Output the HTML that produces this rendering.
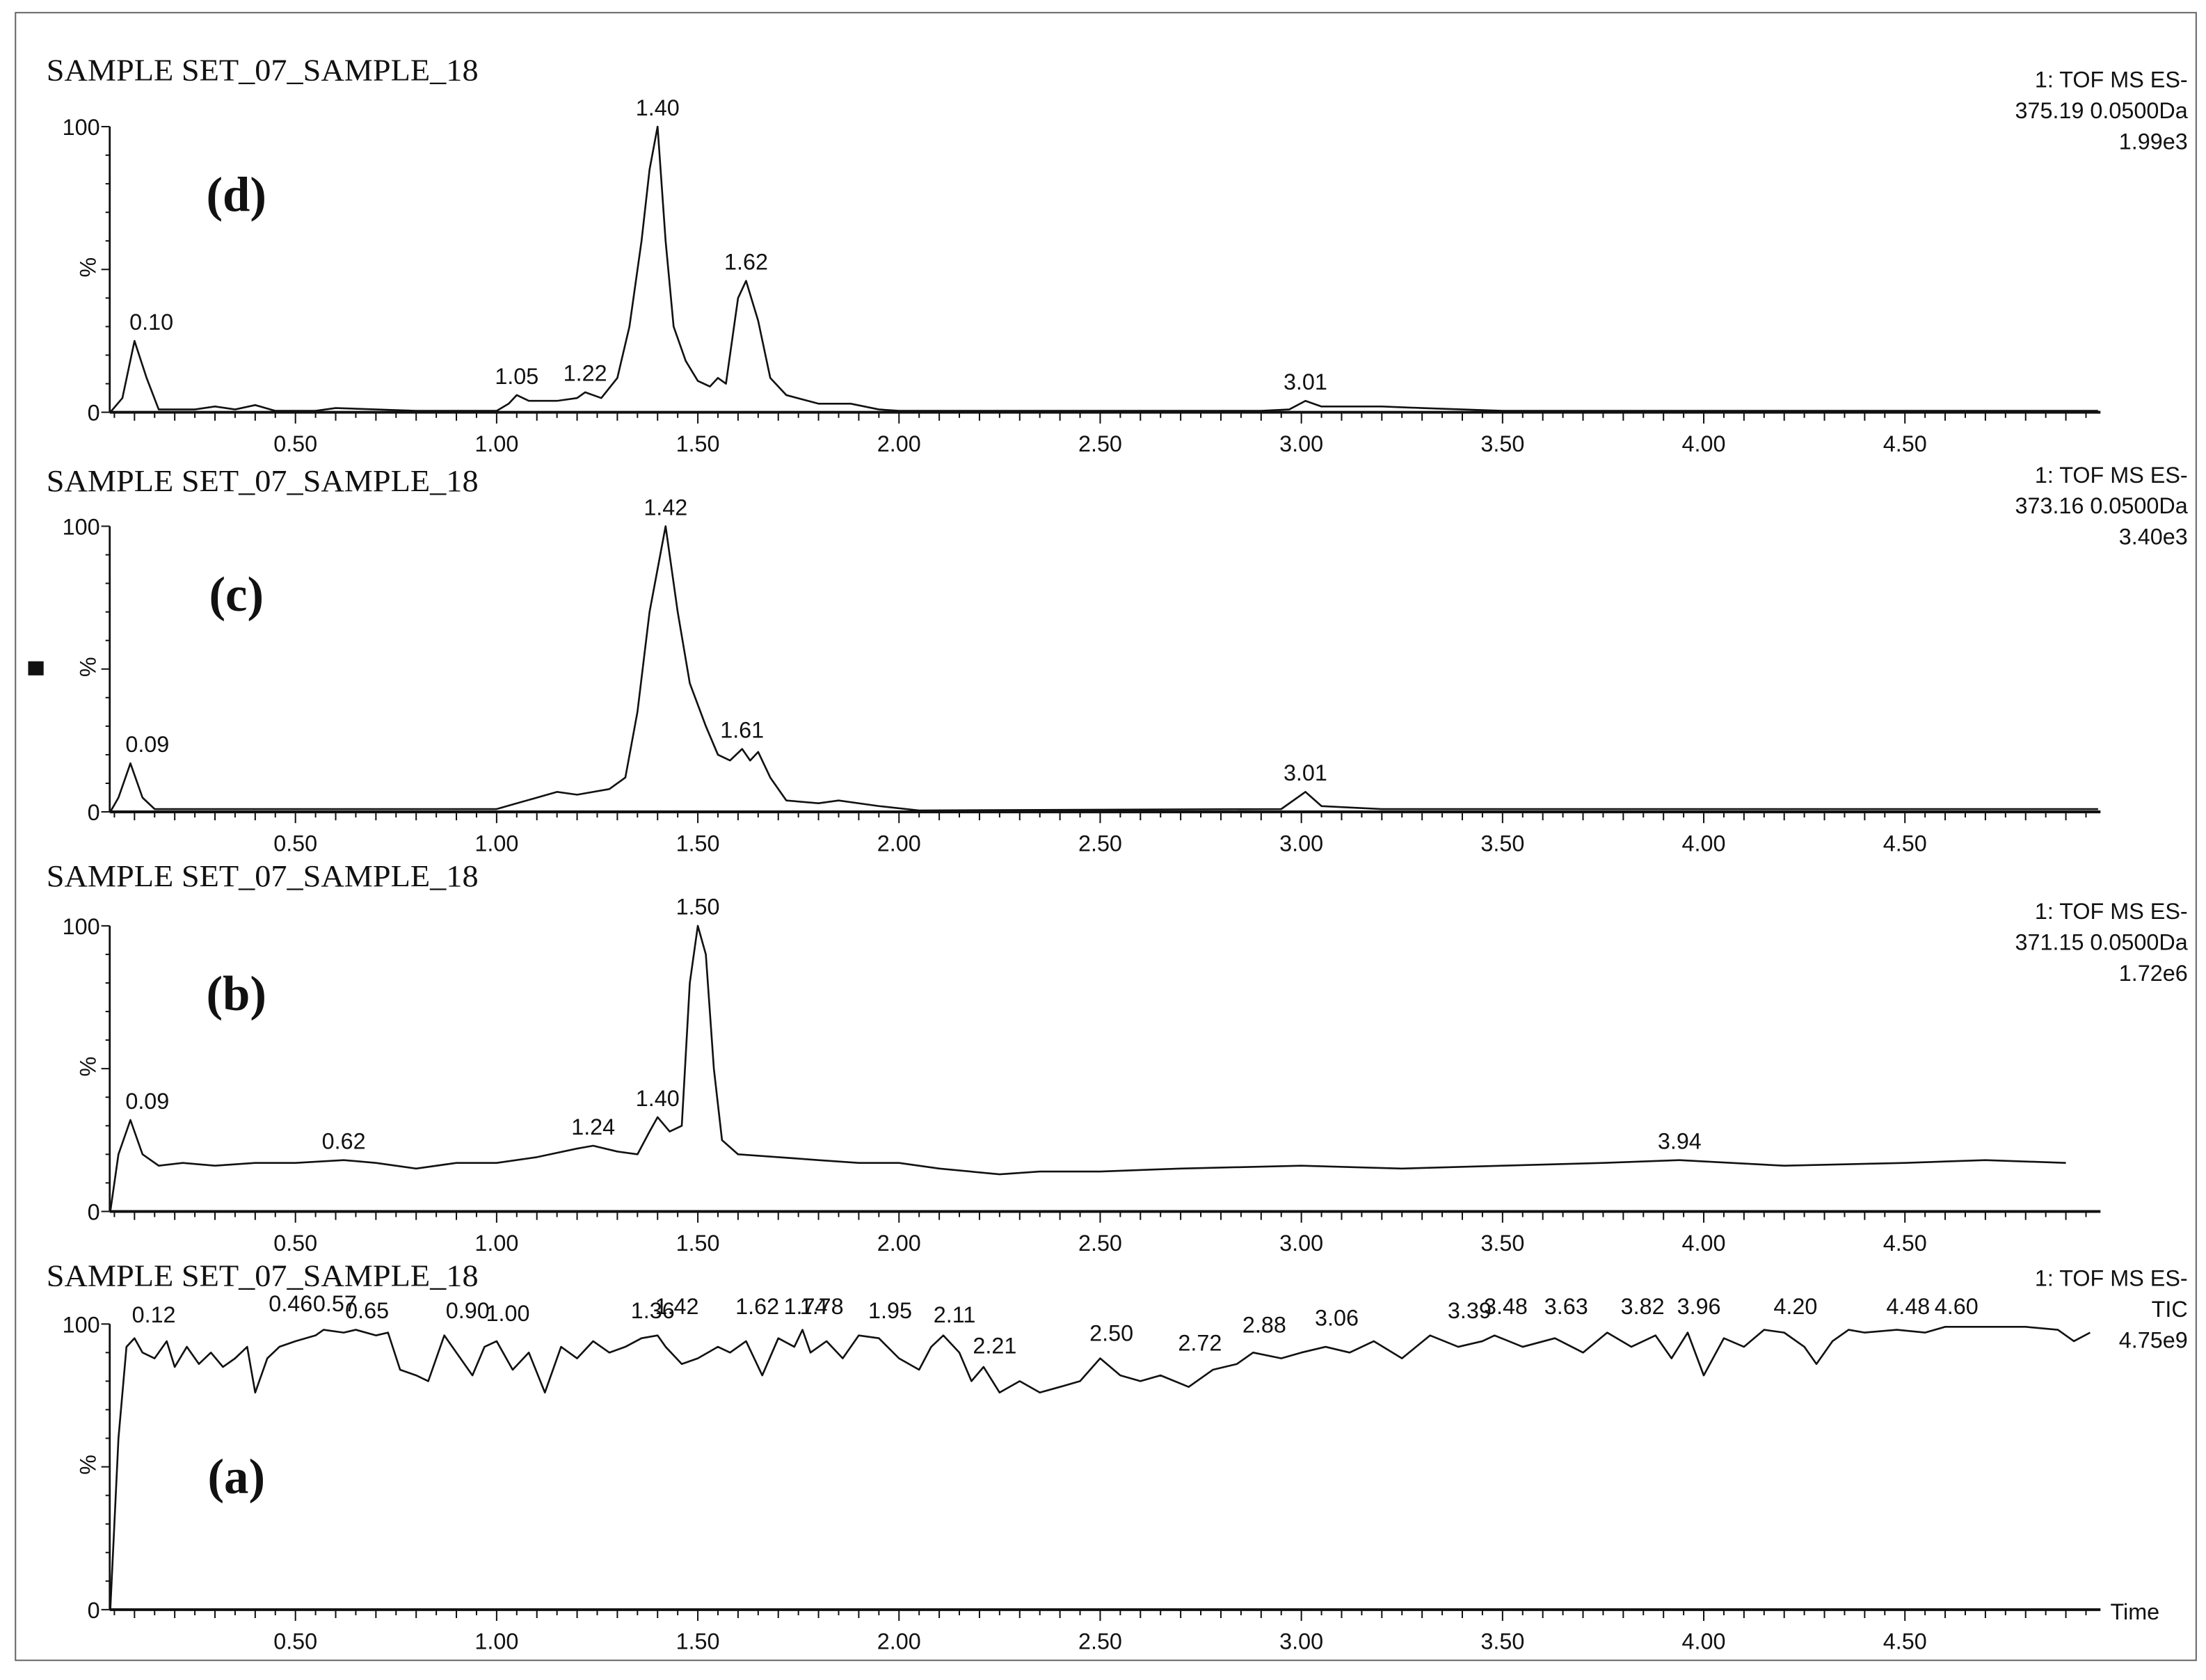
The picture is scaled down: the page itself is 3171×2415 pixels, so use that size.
<!DOCTYPE html>
<html><head><meta charset="utf-8">
<style>
html,body{margin:0;padding:0;background:#fff;}
svg{display:block;}
.t{font-family:"Liberation Serif",serif;font-size:22px;fill:#111;}
.s{font-family:"Liberation Sans",sans-serif;font-size:16px;fill:#111;}
.p{font-family:"Liberation Serif",serif;font-size:35px;font-weight:bold;fill:#111;}
</style></head>
<body>
<svg id="chart" width="3171" height="2415" viewBox="0 0 1568 1194" preserveAspectRatio="none" xmlns="http://www.w3.org/2000/svg">
<rect x="11" y="9" width="1550" height="1171" fill="#fff" stroke="#666" stroke-width="1"/>
<rect x="20" y="470" width="11" height="10" fill="#111"/>
</svg>
<script>
// ---- data ----
const xTicks = [0.50,1.00,1.50,2.00,2.50,3.00,3.50,4.00,4.50];
const panelLetters = ["(d)","(c)","(b)","(a)"];
const panelInfo1 = ["1: TOF MS ES-","1: TOF MS ES-","1: TOF MS ES-","1: TOF MS ES-"];
const panelInfo2 = ["375.19 0.0500Da","373.16 0.0500Da","371.15 0.0500Da","TIC"];
const panelInfo3 = ["1.99e3","3.40e3","1.72e6","4.75e9"];
const dTimes = [0.04,0.07,0.10,0.13,0.16,0.25,0.30,0.35,0.40,0.45,0.55,0.60,0.80,1.00,1.03,1.05,1.08,1.15,1.20,1.22,1.26,1.30,1.33,1.36,1.38,1.40,1.42,1.44,1.47,1.50,1.53,1.55,1.57,1.60,1.62,1.65,1.68,1.72,1.80,1.88,1.95,2.00,2.90,2.97,3.01,3.05,3.20,3.30,3.50,4.98];
const dVals  = [0,5,25,12,1,1,2,1,2.5,0.5,0.5,1.5,0.5,0.5,3,6,4,4,5,7,5,12,30,60,85,100,60,30,18,11,9,12,10,40,46,32,12,6,3,3,1,0.5,0.5,1,4,2,2,1.5,0.5,0.5];
const cTimes = [0.04,0.06,0.09,0.12,0.15,1.00,1.05,1.10,1.15,1.20,1.28,1.32,1.35,1.38,1.42,1.45,1.48,1.52,1.55,1.58,1.61,1.63,1.65,1.68,1.72,1.80,1.85,1.95,2.05,2.95,3.01,3.05,3.20,4.98];
const cVals  = [0,5,17,5,1,1,3,5,7,6,8,12,35,70,100,70,45,30,20,18,22,18,21,12,4,3,4,2,0.5,1,7,2,1,1];
const bTimes = [0.04,0.06,0.09,0.12,0.16,0.22,0.30,0.40,0.50,0.62,0.70,0.80,0.90,1.00,1.10,1.20,1.24,1.30,1.35,1.38,1.40,1.43,1.46,1.48,1.50,1.52,1.54,1.56,1.60,1.70,1.80,1.90,2.00,2.10,2.25,2.35,2.50,2.70,3.00,3.25,3.50,3.75,3.94,4.20,4.50,4.70,4.90];
const bVals  = [0,20,32,20,16,17,16,17,17,18,17,15,17,17,19,22,23,21,20,28,33,28,30,80,100,90,50,25,20,19,18,17,17,15,13,14,14,15,16,15,16,17,18,16,17,18,17];
const aTimes = [0.04,0.06,0.08,0.10,0.12,0.15,0.18,0.20,0.23,0.26,0.29,0.32,0.35,0.38,0.40,0.43,0.46,0.50,0.55,0.57,0.62,0.65,0.70,0.73,0.76,0.80,0.83,0.87,0.90,0.94,0.97,1.00,1.04,1.08,1.12,1.16,1.20,1.24,1.28,1.32,1.36,1.40,1.42,1.46,1.50,1.55,1.58,1.62,1.66,1.70,1.74,1.76,1.78,1.82,1.86,1.90,1.95,2.00,2.05,2.08,2.11,2.15,2.18,2.21,2.25,2.30,2.35,2.40,2.45,2.50,2.55,2.60,2.65,2.72,2.78,2.84,2.88,2.95,3.00,3.06,3.12,3.18,3.25,3.32,3.39,3.45,3.48,3.55,3.63,3.70,3.76,3.82,3.88,3.92,3.96,4.00,4.05,4.10,4.15,4.20,4.25,4.28,4.32,4.36,4.40,4.48,4.55,4.60,4.70,4.80,4.88,4.92,4.96];
const aVals  = [0,60,92,95,90,88,94,85,92,86,90,85,88,92,76,88,92,94,96,98,97,98,96,97,84,82,80,96,90,82,92,94,84,90,76,92,88,94,90,92,95,96,92,86,88,92,90,94,82,95,92,98,90,94,88,96,95,88,84,92,96,90,80,85,76,80,76,78,80,88,82,80,82,78,84,86,90,88,90,92,90,94,88,96,92,94,96,92,95,90,97,92,96,88,97,82,95,92,98,97,92,86,94,98,97,98,97,99,99,99,98,94,97];
const dLabels = [0.10,1.05,1.22,1.40,1.62,3.01];
const dLabelVals = [25,6,7,100,46,4];
const cLabels = [0.09,1.42,1.61,3.01];
const cLabelVals = [17,100,22,7];
const bLabels = [0.09,0.62,1.24,1.40,1.50,3.94];
const bLabelVals = [32,18,23,33,100,18];
const aLabels = [0.12,0.46,0.57,0.65,0.90,1.00,1.36,1.42,1.62,1.74,1.78,1.95,2.11,2.21,2.50,2.72,2.88,3.06,3.39,3.48,3.63,3.82,3.96,4.20,4.48,4.60];
const aLabelY = [940,932,932,937,937,939,937,934,934,934,934,937,940,962,953,960,947,942,937,934,934,934,934,934,934,934];

// ---- layout ----
const NS="http://www.w3.org/2000/svg";
const svg=document.getElementById('chart');
const panelTop=[90,374,658,941];
const titleY=[57,349,630,914];
const infoY=[62,343,653,914];
const H=203;
const X0=78, X1=1493;
function xs(t){return 67+286*t;}
function mk(tag,attrs,parent){const e=document.createElementNS(NS,tag);for(const k in attrs)e.setAttribute(k,attrs[k]);(parent||svg).appendChild(e);return e;}
const series=[[dTimes,dVals],[cTimes,cVals],[bTimes,bVals],[aTimes,aVals]];
const labels=[[dLabels,dLabelVals],[cLabels,cLabelVals],[bLabels,bLabelVals]];
const names=["d","c","b","a"];

for(let p=0;p<4;p++){
  const top=panelTop[p], base=top+H;
  const ys=v=>base-v/100*H;
  const g=mk('g',{});
  
  
  const title=mk('text',{x:33,y:titleY[p],class:'t',textLength:307,lengthAdjust:'spacingAndGlyphs'},g);title.textContent='SAMPLE SET_07_SAMPLE_18';
  
  
  const lines=[panelInfo1[p],panelInfo2[p],panelInfo3[p]];
  for(let i=0;i<3;i++){
    const tx=mk('text',{x:1555,y:infoY[p]+i*22,class:'s','text-anchor':'end'},g);tx.textContent=lines[i];
    
    
  }
  const let_=mk('text',{x:168,y:top+60+(p==3?60:0),class:'p','text-anchor':'middle'},g);let_.textContent=panelLetters[p];
  
  
  const ya=mk('line',{x1:X0,y1:top,x2:X0,y2:base,stroke:'#111','stroke-width':1.4},g);
  
  
  for(let v=0;v<=100;v+=10){
    mk('line',{x1:X0-(v%50==0?6:3),y1:ys(v),x2:X0,y2:ys(v),stroke:'#111','stroke-width':1},g);
  }
  const y100=mk('text',{x:71,y:top+6,class:'s','text-anchor':'end'},g);y100.textContent='100';
  
  
  const y0=mk('text',{x:71,y:base+6,class:'s','text-anchor':'end'},g);y0.textContent='0';
  
  
  const pc=mk('text',{x:0,y:0,class:'s','text-anchor':'middle',transform:`translate(68 ${top+100}) rotate(-90)`},g);pc.textContent='%';
  
  
  const xa=mk('line',{x1:X0,y1:base,x2:X1,y2:base,stroke:'#111','stroke-width':2},g);
  
  
  for(let k=1;k<100;k++){
    const t=k*0.05; const x=xs(t); if(x<X0||x>X1)continue;
    const len=(k%10==0)?8:(k%2==0?6:4);
    mk('line',{x1:x,y1:base,x2:x,y2:base+len,stroke:'#111','stroke-width':1},g);
  }
  xTicks.forEach(t=>{
    const tl=mk('text',{x:xs(t),y:base+28,class:'s','text-anchor':'middle'},g);tl.textContent=t.toFixed(2);
    
    
  });
  if(p==3){
    const tm=mk('text',{x:1500,y:base+7,class:'s'},g);tm.textContent='Time';
    
    
  }
  const [ts,vs]=series[p];
  const pts=ts.map((t,i)=>xs(t).toFixed(1)+','+ys(vs[i]).toFixed(1)).join(' ');
  const pl=mk('polyline',{points:pts,fill:'none',stroke:'#111','stroke-width':1.3,'stroke-linejoin':'round'},g);
  
  
  if(p<3){
    const [lt,lv]=labels[p];
    lt.forEach((t,i)=>{
      const lb=mk('text',{x:xs(t)+(t<0.2?12:0),y:ys(lv[i])-8,class:'s','text-anchor':'middle'},g);lb.textContent=t.toFixed(2);
      
      
    });
  } else {
    aLabels.forEach((t,i)=>{
      const lb=mk('text',{x:xs(t)+8,y:aLabelY[i],class:'s','text-anchor':'middle'},g);lb.textContent=t.toFixed(2);
      
      
    });
  }
}
</script>
</body></html>
